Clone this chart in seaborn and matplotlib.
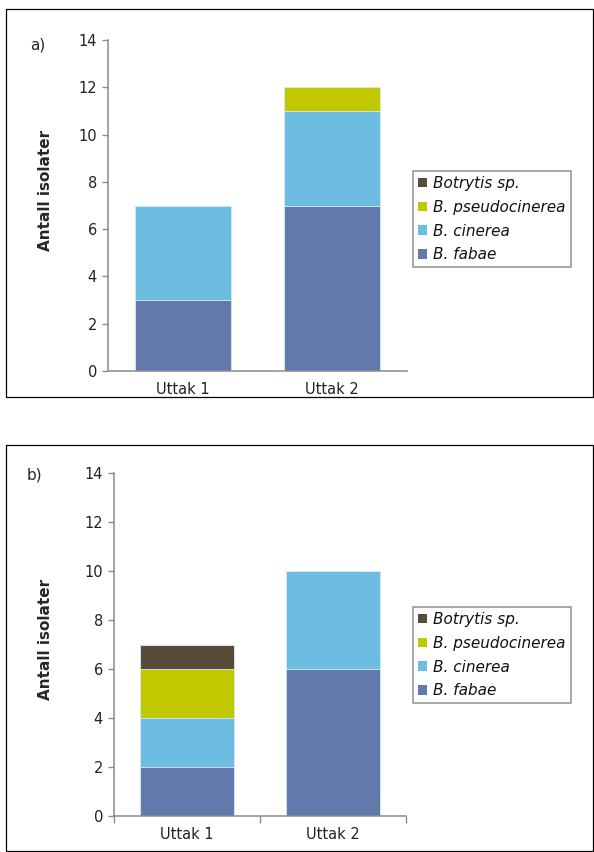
import matplotlib
matplotlib.use("Agg")
import matplotlib.pyplot as plt
from matplotlib.patches import Patch, Rectangle
import seaborn as sns
import pandas as pd
import numpy as np

sns.set_theme(style="white")
plt.rcParams['font.family'] = ['DejaVu Sans']

samples = ["Uttak 1", "Uttak 2"]
species = ["B. fabae", "B. cinerea", "B. pseudocinerea", "Botrytis sp."]
colors = ["#6279AB", "#6CBDE1", "#C2C800", "#574C3A"]

# panel a
a_fabae = [3, 7]
a_cinerea = [4, 4]
a_pseudo = [0, 1]
a_botrytis = [0, 0]
# panel b
b_fabae = [2, 6]
b_cinerea = [2, 4]
b_pseudo = [2, 0]
b_botrytis = [1, 0]

yticks = [0, 2, 4, 6, 8, 10, 12, 14]

W, H = 594, 852
fig = plt.figure(figsize=(W / 100, H / 100), dpi=100)

def fx(px):
    return px / W

def fy(py):
    return 1 - py / H

spine_col = "#8a8a8a"

def draw_panel(ax, series, xticks_marks, label_xy):
    cum = np.cumsum(np.array(series), axis=0)
    # draw from top layer down so lower layers overwrite
    for i in range(len(series) - 1, -1, -1):
        df = pd.DataFrame({"sample": samples, "val": cum[i]})
        sns.barplot(data=df, x="sample", y="val", color=colors[i], ax=ax,
                    width=0.645, saturation=1, edgecolor="#dcecf5", linewidth=0.6)
    ax.set_xlim(-0.5, 1.5)
    ax.set_ylim(0, 14)
    ax.set_yticks(yticks)
    ax.set_yticklabels([str(t) for t in yticks])
    ax.set_xlabel("")
    ax.set_ylabel("Antall isolater", fontsize=11, fontweight="bold")
    ax.yaxis.set_label_coords(*label_xy)
    for s in ["top", "right"]:
        ax.spines[s].set_visible(False)
    for s in ["left", "bottom"]:
        ax.spines[s].set_color(spine_col)
        ax.spines[s].set_linewidth(1.1)
    ax.tick_params(axis="y", length=4, width=1, color=spine_col, labelsize=10.5, pad=4, left=True)
    ax.tick_params(axis="x", length=0, labelsize=10.5, pad=8)
    if xticks_marks:
        ax.set_xticks([-0.5, 0.5, 1.5], minor=True)
        ax.tick_params(axis="x", which="minor", length=5, width=1, color=spine_col, bottom=True)
    for lbl in ax.get_yticklabels() + ax.get_xticklabels():
        lbl.set_color("#222222")

# panel frames
fig.patches.append(Rectangle((fx(6), fy(397)), fx(587), 388 / H, transform=fig.transFigure,
                             fill=False, edgecolor="black", linewidth=0.9))
fig.patches.append(Rectangle((fx(6), fy(851)), fx(587), 406 / H, transform=fig.transFigure,
                             fill=False, edgecolor="black", linewidth=0.9))

ax_a = fig.add_axes([fx(108), fy(371), fx(407 - 108), (371 - 40) / H])
draw_panel(ax_a, [a_fabae, a_cinerea, a_pseudo, a_botrytis], False, (-0.184, 0.547))
ax_b = fig.add_axes([fx(114), fy(816), fx(406 - 114), (816 - 473) / H])
draw_panel(ax_b, [b_fabae, b_cinerea, b_pseudo, b_botrytis], True, (-0.209, 0.515))

fig.text(fx(38), fy(45), "a)", fontsize=11, ha="center", va="center")
fig.text(fx(34), fy(475), "b)", fontsize=11, ha="center", va="center")

handles = [Patch(facecolor=colors[i], edgecolor="none", label=species[i]) for i in range(3, -1, -1)]
for top in (171, 607):
    leg = fig.legend(handles=handles, loc="upper left", bbox_to_anchor=(fx(413), fy(top)),
                     frameon=True, fancybox=False, edgecolor="#999999", framealpha=1,
                     prop={"style": "italic", "size": 11}, handlelength=0.6, handleheight=0.6,
                     handletextpad=0.4, labelspacing=0.58, borderpad=0.32, borderaxespad=0)
    leg.get_frame().set_linewidth(1.2)
    for t in leg.get_texts():
        t.set_color("#111111")

fig.savefig("out.png", dpi=100, facecolor="white")
